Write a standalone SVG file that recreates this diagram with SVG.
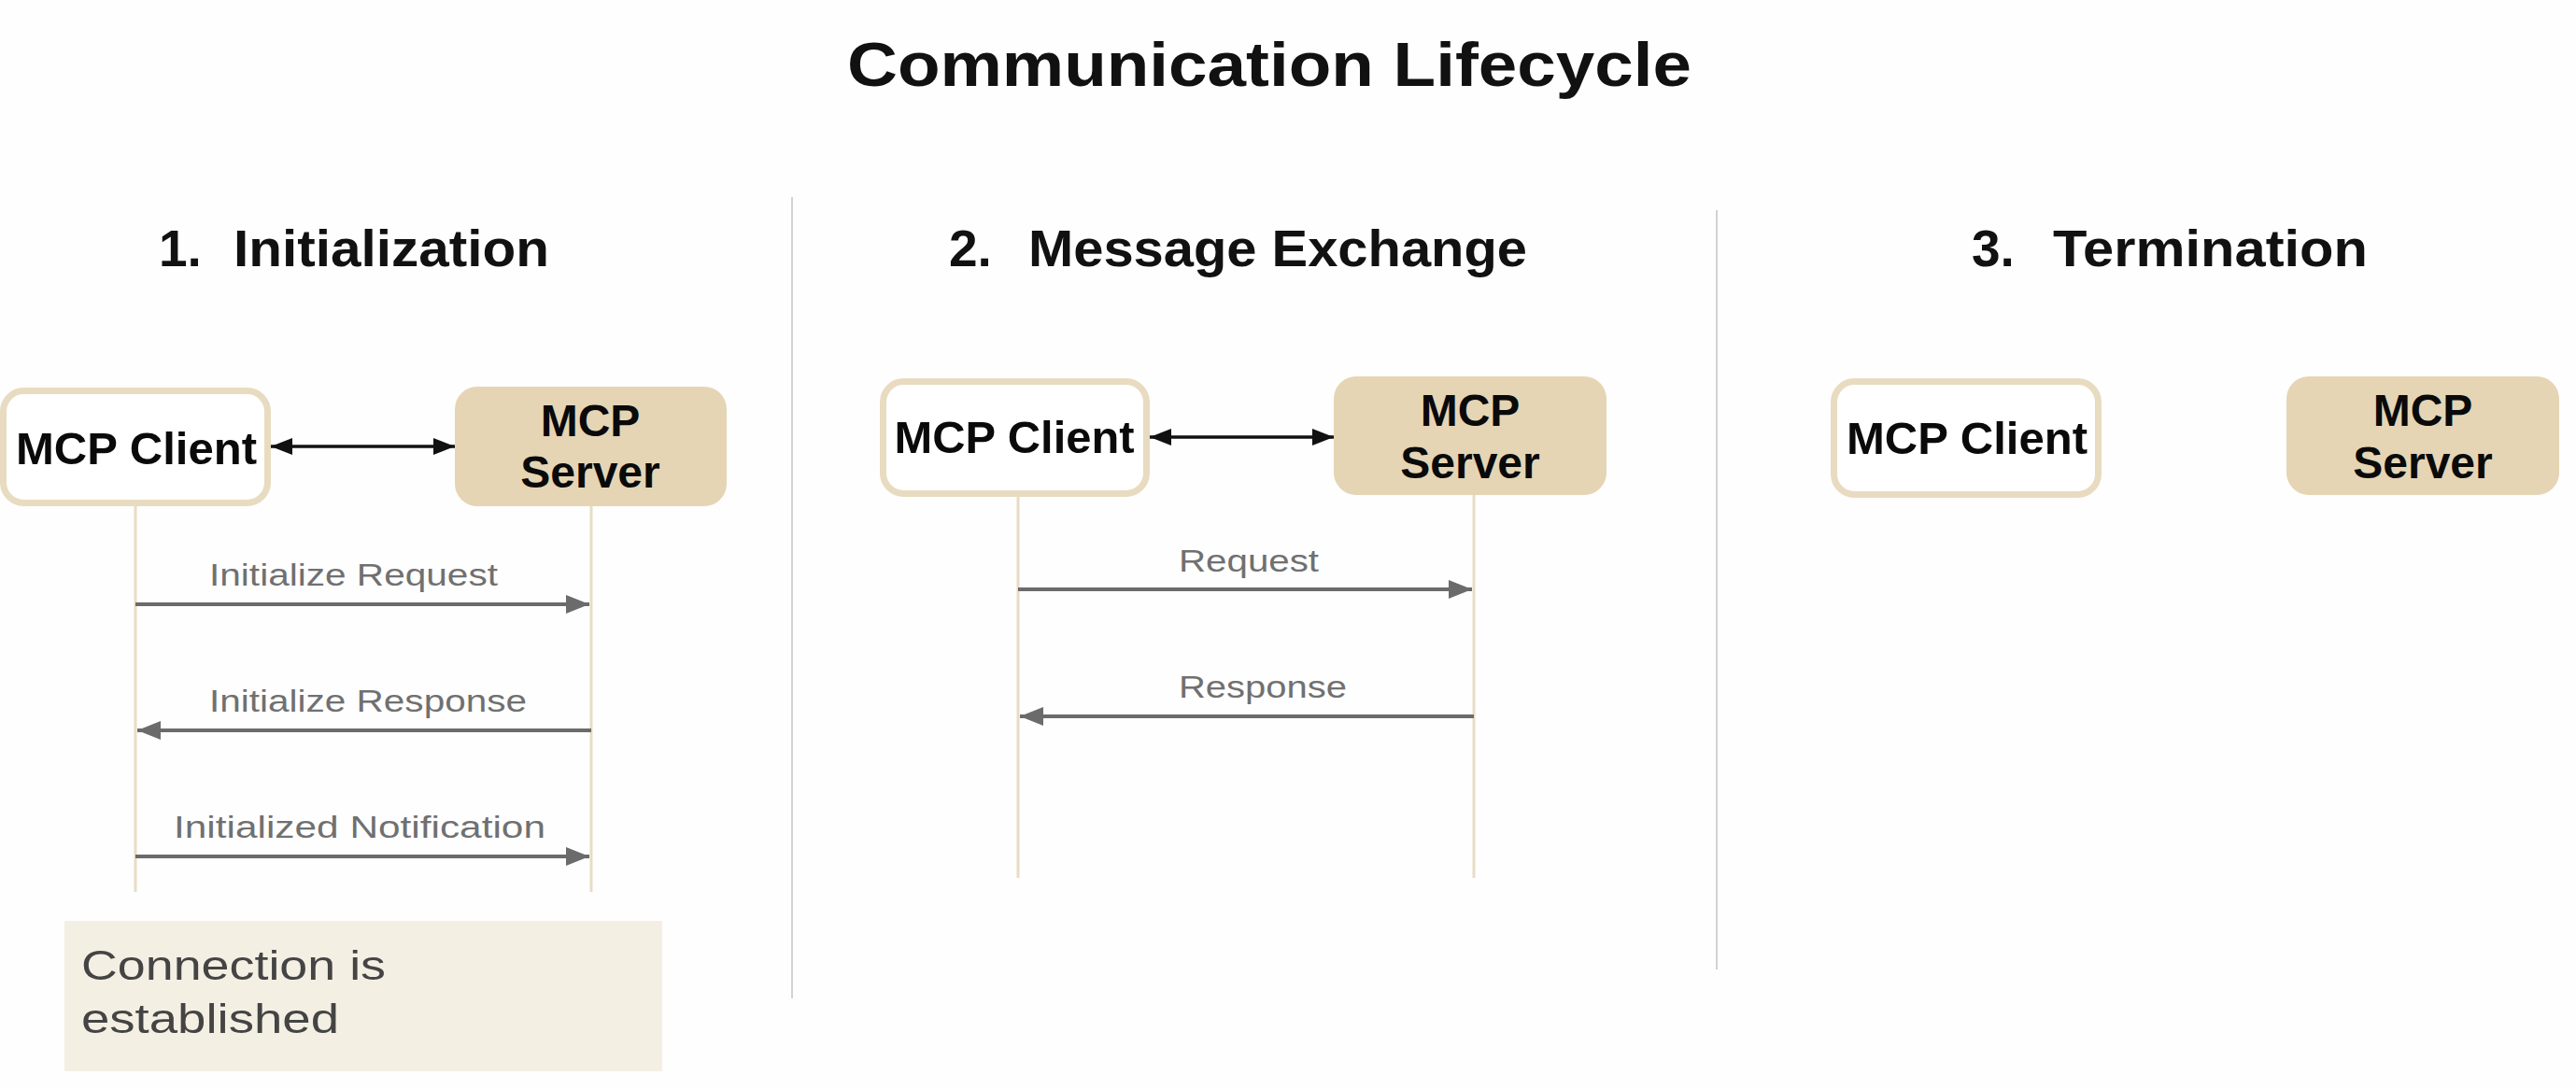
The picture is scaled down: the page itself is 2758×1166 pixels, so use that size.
<svg xmlns="http://www.w3.org/2000/svg" width="2758" height="1166" viewBox="0 0 2758 1166">
  <style>
    .title { font-family: "Liberation Sans", Arial, sans-serif; font-weight: bold; font-size: 67px; fill: #111111; }
    .heading { font-family: "Liberation Sans", Arial, sans-serif; font-weight: bold; font-size: 55px; fill: #111111; }
    .node-text { font-family: "Liberation Sans", Arial, sans-serif; font-weight: bold; font-size: 48px; fill: #0a0a0a; }
    .msg { font-family: "Liberation Sans", Arial, sans-serif; font-size: 34px; fill: #707070; }
    .note { font-family: "Liberation Sans", Arial, sans-serif; font-size: 44px; fill: #444444; }
    .client { fill: #ffffff; stroke: #e8dbc0; stroke-width: 7; }
    .server { fill: #e5d5b5; }
    .lifeline { stroke: #e9dcc4; stroke-width: 3; fill: none; }
    .divider { stroke: #d2d2d2; stroke-width: 2; }
    .msg-arrow { stroke: #6b6b6b; stroke-width: 4; fill: none; marker-end: url(#grayHead); }
    .link { stroke: #111111; stroke-width: 3.5; fill: none; marker-start: url(#blackHead); marker-end: url(#blackHead); }
  </style>
  <defs>
    <marker id="grayHead" markerUnits="userSpaceOnUse" markerWidth="25" markerHeight="20" refX="25" refY="10" orient="auto">
      <path d="M0,0 L25,10 L0,20 Z" fill="#6b6b6b"/>
    </marker>
    <marker id="blackHead" markerUnits="userSpaceOnUse" markerWidth="23" markerHeight="18" refX="23" refY="9" orient="auto-start-reverse">
      <path d="M0,0 L23,9 L0,18 Z" fill="#111111"/>
    </marker>
  </defs>

  <rect width="2758" height="1166" fill="#fefefe"/>

  <text class="title" x="907" y="92" textLength="904" lengthAdjust="spacingAndGlyphs">Communication Lifecycle</text>

  <!-- phase headings -->
  <g id="heading-initialization">
    <text class="heading" y="285"><tspan x="170">1.</tspan><tspan x="250" textLength="338" lengthAdjust="spacingAndGlyphs">Initialization</tspan></text>
  </g>
  <g id="heading-message-exchange">
    <text class="heading" y="285"><tspan x="1016">2.</tspan><tspan x="1101" textLength="534" lengthAdjust="spacingAndGlyphs">Message Exchange</tspan></text>
  </g>
  <g id="heading-termination">
    <text class="heading" y="285"><tspan x="2111">3.</tspan><tspan x="2198" textLength="337" lengthAdjust="spacingAndGlyphs">Termination</tspan></text>
  </g>

  <!-- column dividers -->
  <g id="dividers">
    <line class="divider" x1="848" y1="211" x2="848" y2="1069"/>
    <line class="divider" x1="1838" y1="225" x2="1838" y2="1038"/>
  </g>

  <!-- lifelines and messages -->
  <g id="connectors">
    <line class="lifeline" x1="145" y1="542" x2="145" y2="955"/>
    <line class="lifeline" x1="633" y1="542" x2="633" y2="955"/>
    <line class="lifeline" x1="1090" y1="532" x2="1090" y2="940"/>
    <line class="lifeline" x1="1578" y1="530" x2="1578" y2="940"/>

    <line class="link" x1="290" y1="478" x2="487" y2="478"/>
    <line class="link" x1="1231" y1="468" x2="1428" y2="468"/>

    <line class="msg-arrow" x1="145" y1="647" x2="631" y2="647"/>
    <line class="msg-arrow" x1="633" y1="782" x2="147" y2="782"/>
    <line class="msg-arrow" x1="145" y1="917" x2="631" y2="917"/>
    <line class="msg-arrow" x1="1090" y1="631" x2="1576" y2="631"/>
    <line class="msg-arrow" x1="1578" y1="767" x2="1092" y2="767"/>

    <text class="msg" x="224" y="627" textLength="309" lengthAdjust="spacingAndGlyphs">Initialize Request</text>
    <text class="msg" x="224" y="762" textLength="340" lengthAdjust="spacingAndGlyphs">Initialize Response</text>
    <text class="msg" x="186" y="897" textLength="398" lengthAdjust="spacingAndGlyphs">Initialized Notification</text>
    <text class="msg" x="1262" y="612" textLength="150" lengthAdjust="spacingAndGlyphs">Request</text>
    <text class="msg" x="1262" y="747" textLength="180" lengthAdjust="spacingAndGlyphs">Response</text>
  </g>

  <!-- phase 1 -->
  <g id="client-1">
    <rect class="client" x="3.5" y="418.5" width="283" height="120" rx="22"/>
    <text class="node-text" x="146" y="497" text-anchor="middle" textLength="258" lengthAdjust="spacingAndGlyphs">MCP Client</text>
  </g>
  <g id="server-1">
    <rect class="server" x="487" y="414" width="291" height="128" rx="24"/>
    <text class="node-text" x="632" y="467" text-anchor="middle">MCP</text>
    <text class="node-text" x="632" y="522" text-anchor="middle">Server</text>
  </g>
  <g id="status-note">
    <rect x="69" y="986" width="640" height="161" fill="#f4efe3"/>
    <text class="note" x="87" y="1049" textLength="326" lengthAdjust="spacingAndGlyphs">Connection is</text>
    <text class="note" x="87" y="1106" textLength="276" lengthAdjust="spacingAndGlyphs">established</text>
  </g>

  <!-- phase 2 -->
  <g id="client-2">
    <rect class="client" x="945.5" y="408.5" width="282" height="120" rx="22"/>
    <text class="node-text" x="1086" y="485" text-anchor="middle" textLength="257" lengthAdjust="spacingAndGlyphs">MCP Client</text>
  </g>
  <g id="server-2">
    <rect class="server" x="1428" y="403" width="292" height="127" rx="24"/>
    <text class="node-text" x="1574" y="456" text-anchor="middle">MCP</text>
    <text class="node-text" x="1574" y="512" text-anchor="middle">Server</text>
  </g>

  <!-- phase 3 -->
  <g id="client-3">
    <rect class="client" x="1963.5" y="408.5" width="283" height="121" rx="22"/>
    <text class="node-text" x="2106" y="486" text-anchor="middle" textLength="258" lengthAdjust="spacingAndGlyphs">MCP Client</text>
  </g>
  <g id="server-3">
    <rect class="server" x="2448" y="403" width="292" height="127" rx="24"/>
    <text class="node-text" x="2594" y="456" text-anchor="middle">MCP</text>
    <text class="node-text" x="2594" y="512" text-anchor="middle">Server</text>
  </g>
</svg>
